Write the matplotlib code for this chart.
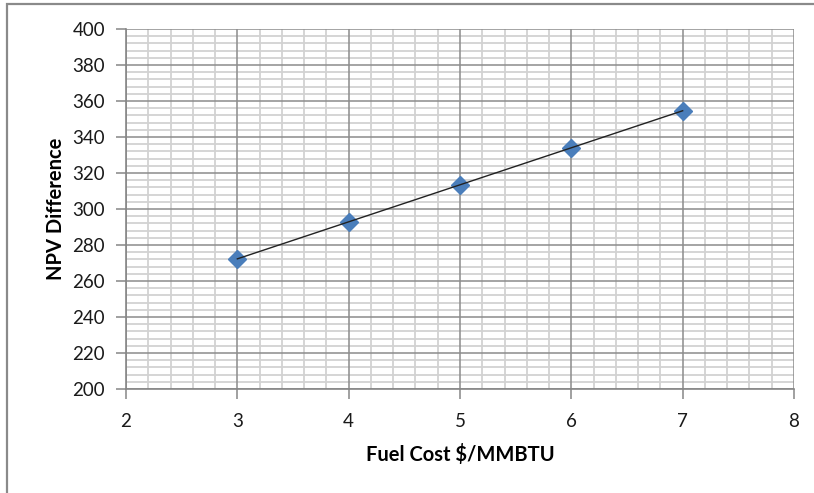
import matplotlib.pyplot as plt
import numpy as np
from matplotlib.patches import Rectangle
from matplotlib.ticker import MultipleLocator

fuel_cost = [3, 4, 5, 6, 7]
npv_diff = [272.3, 292.9, 313.4, 334.0, 354.6]

marker_blue = "#4a7ebb"
major_gray = "#8c8c8c"
minor_gray = "#d2d2d2"

plt.rcParams["font.family"] = ["Lato", "DejaVu Sans"]

fig = plt.figure(figsize=(8.14, 4.93), dpi=100)
ax = fig.add_axes([126 / 814, 1 - 389 / 493, 668 / 814, 360 / 493])

# outer chart border
fig.patches.append(
    Rectangle((7 / 814, -0.2), 1.2, 1.2 - 4 / 493, transform=fig.transFigure,
              fill=False, edgecolor="#8a8a8a", lw=1.6, zorder=0)
)

ax.set_xlim(2, 8)
ax.set_ylim(200, 400)
ax.xaxis.set_major_locator(MultipleLocator(1))
ax.xaxis.set_minor_locator(MultipleLocator(0.2))
ax.yaxis.set_major_locator(MultipleLocator(20))
ax.yaxis.set_minor_locator(MultipleLocator(4))

# light minor grid from the axis, darker major lines drawn on top of it
ax.grid(which="minor", color=minor_gray, lw=1.3)
ax.set_axisbelow(True)
for xv in ax.get_xticks():
    ax.axvline(xv, color=major_gray, lw=1.1, zorder=1)
for yv in ax.get_yticks():
    ax.axhline(yv, color=major_gray, lw=1.1, zorder=1)

for side in ["top", "right"]:
    ax.spines[side].set_visible(False)
for side in ["left", "bottom"]:
    ax.spines[side].set_color("#868686")
    ax.spines[side].set_linewidth(1.2)

ax.tick_params(which="major", length=7, width=1.1, color="#868686",
               labelsize=13.5, labelcolor="#1a1a1a")
ax.tick_params(axis="x", pad=10)
ax.tick_params(axis="y", pad=8)
ax.tick_params(which="minor", length=0)

# linear trendline
coef = np.polyfit(fuel_cost, npv_diff, 1)
xs = np.array([fuel_cost[0], fuel_cost[-1]])
ax.plot(xs, np.polyval(coef, xs), color="#222222", lw=1.0, zorder=3)

ax.plot(fuel_cost, npv_diff, linestyle="none", marker="D", markersize=9.5,
        color=marker_blue, markeredgecolor=marker_blue, zorder=2)

ax.set_xlabel("Fuel Cost $/MMBTU", fontsize=14.5, fontweight="bold", labelpad=10)
ax.set_ylabel("NPV Difference", fontsize=14.5, fontweight="bold", labelpad=5)

fig.savefig("out.png", dpi=100)
